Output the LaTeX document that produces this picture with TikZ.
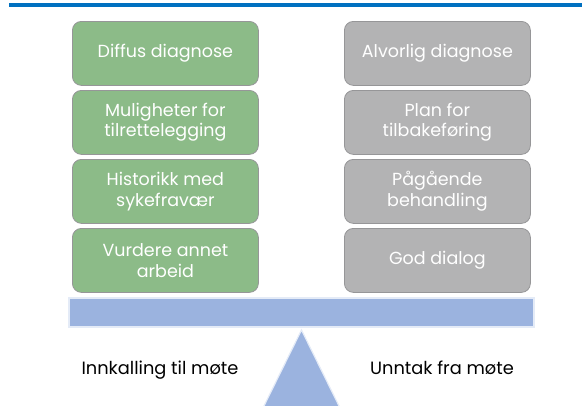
\documentclass[tikz,border=0pt]{standalone}
\usepackage{fontspec}
\setmainfont{Poppins}
\definecolor{topblue}{RGB}{0,112,192}
\definecolor{boxgreen}{RGB}{140,187,136}
\definecolor{boxgray}{RGB}{179,179,180}
\definecolor{boxedge}{RGB}{150,150,152}
\definecolor{beam}{RGB}{155,179,223}
\definecolor{glow}{RGB}{228,235,247}
\begin{document}
\begin{tikzpicture}[x=1pt,y=-1pt,
  card/.style={draw=boxedge,line width=0.8pt,rounded corners=9pt,minimum width=186pt,minimum height=64pt,
    text=white,align=center,font=\fontsize{17.5}{20.5}\selectfont,inner sep=0pt,anchor=north west},
  goodcard/.style={card,fill=boxgreen},
  badcard/.style={card,fill=boxgray},
  weight/.style={fill=beam,draw=glow,line width=1.2pt},
  sidelabel/.style={font=\fontsize{17.8}{19}\selectfont,text=black,inner sep=0pt}]
\useasboundingbox (0,0) rectangle (582,405);
\fill[topblue] (9,3) rectangle (582,7);
\node[goodcard] (g1) at (72,21) {Diffus diagnose};
\node[goodcard] (g2) at (72,90) {Muligheter for\\tilrettelegging};
\node[goodcard] (g3) at (72,159) {Historikk med\\sykefravær};
\node[goodcard] (g4) at (72,228) {Vurdere annet\\arbeid};
\node[badcard] (b1) at (344,21) {Alvorlig diagnose};
\node[badcard] (b2) at (344,90) {Plan for\\tilbakeføring};
\node[badcard] (b3) at (344,159) {Pågående\\behandling};
\node[badcard] (b4) at (344,228) {God dialog};
\draw[weight] (69,298) rectangle (534,327);
\draw[weight] (301.5,330) -- (262,410) -- (341,410) -- cycle;
\node[sidelabel] (l) at (160,370) {Innkalling til møte};
\node[sidelabel] (r) at (442,368) {Unntak fra møte};
\end{tikzpicture}
\end{document}
